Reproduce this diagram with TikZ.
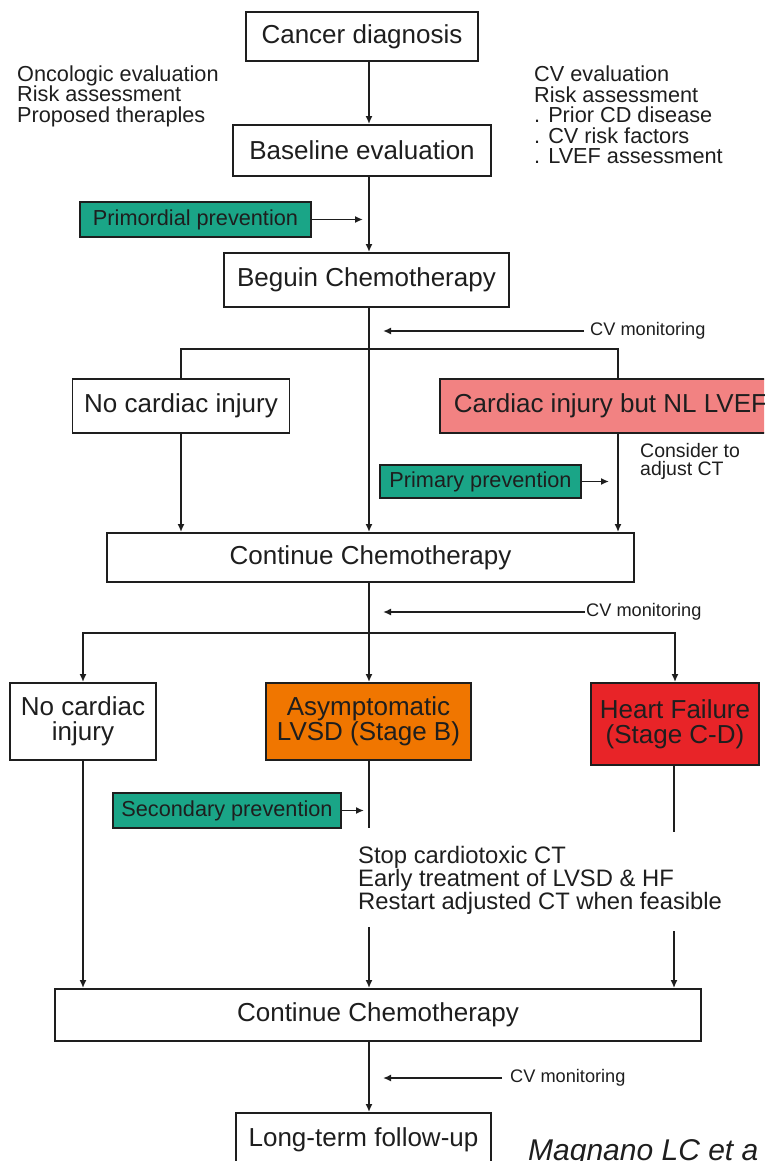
\documentclass[tikz,border=0pt]{standalone}
\usepackage{fontspec}
\setmainfont{Liberation Sans}
\usetikzlibrary{arrows.meta}
\definecolor{tealc}{RGB}{26,165,135}
\definecolor{pinkc}{RGB}{242,130,130}
\definecolor{orangec}{RGB}{240,118,0}
\definecolor{redc}{RGB}{232,36,40}
\definecolor{txt}{RGB}{30,30,30}
\begin{document}
\begin{tikzpicture}[x=1pt,y=-1pt,
  box/.style={draw=txt, line width=1.9pt, fill=white, inner sep=0pt, align=center, text=txt,
    font=\fontsize{26}{25}\selectfont},
  gbox/.style={draw=txt, line width=1.9pt, fill=tealc, inner sep=0pt, text=txt,
    font=\fontsize{21.7}{24}\selectfont},
  side/.style={align=left, inner sep=0pt, text=txt, font=\fontsize{21.7}{20.5}\selectfont},
  cvm/.style={inner sep=0pt, text=txt, font=\fontsize{18.2}{20}\selectfont},
  arr/.style={draw=txt, line width=1.6pt, -{Latex[length=8pt,width=7pt]}},
  ln/.style={draw=txt, line width=1.6pt}]
\useasboundingbox (0,0) rectangle (764,1161);
\clip (0,0) rectangle (764,1161);
\coordinate (vx) at (369,0);
\coordinate (rx) at (618,0);
\coordinate (br1) at (369,349);
\coordinate (br2) at (369,633);
% nodes
\node[box, minimum width=232pt, minimum height=49pt] (cancer) at (362,36.5) {Cancer diagnosis};
\node[side, anchor=west] (onc) at (17,96) {Oncologic evaluation\\Risk assessment\\Proposed theraples};
\node[side, anchor=west] (cve) at (534,115) {CV evaluation\\Risk assessment\\. Prior CD disease\\. CV risk factors\\. LVEF assessment};
\node[box, minimum width=258pt, minimum height=51pt] (base) at (362,150.5) {Baseline evaluation};
\node[gbox, minimum width=231pt, minimum height=35pt] (prim) at (195.5,219.5) {Primordial prevention};
\node[box, minimum width=285pt, minimum height=54pt] (beg) at (366.5,280) {Beguin Chemotherapy};
\node[cvm, anchor=west] (cvm1) at (590,331) {CV monitoring};
\node[box, minimum width=217pt, minimum height=54pt] (nc1) at (181,406) {No cardiac injury};
\node[box, fill=pinkc, anchor=west, minimum height=54pt, inner xsep=14pt] (cinj) at (439,406) {Cardiac injury but NL LVEF};
\node[cvm, anchor=west, align=left, font=\fontsize{19.5}{18}\selectfont] (cons) at (640,461) {Consider to\\adjust CT};
\node[gbox, minimum width=201pt, minimum height=33pt] (primary) at (480.5,481.5) {Primary prevention};
\node[box, minimum width=527pt, minimum height=49pt] (cont1) at (370.5,557.5) {Continue Chemotherapy};
\node[cvm, anchor=west] (cvm2) at (586,612) {CV monitoring};
\node[box, minimum width=146pt, minimum height=77pt] (nc2) at (83,721.5) {No cardiac\\injury};
\node[box, fill=orangec, minimum width=205pt, minimum height=77pt] (asym) at (368.5,721.5) {Asymptomatic\\LVSD (Stage B)};
\node[box, fill=redc, minimum width=168pt, minimum height=82pt] (hf) at (675,724) {Heart Failure\\(Stage C-D)};
\node[gbox, minimum width=228pt, minimum height=35pt] (sec) at (227,810.5) {Secondary prevention};
\node[side, anchor=north west, font=\fontsize{23.8}{22}\selectfont] (treat) at (358,846) {Stop cardiotoxic CT\\Early treatment of LVSD \& HF\\Restart adjusted CT when feasible};
\coordinate (t1) at (369,927);
\coordinate (t2) at (674,931);
\coordinate (a1) at (369,828);
\coordinate (a2) at (674,832);
\node[box, minimum width=646pt, minimum height=52pt] (cont2) at (378,1015) {Continue Chemotherapy};
\node[cvm, anchor=west] (cvm3) at (510,1078) {CV monitoring};
\node[box, minimum width=255pt, minimum height=54pt] (lt) at (363.5,1140) {Long-term follow-up};
\node[inner sep=0pt, anchor=base west, text=txt, font=\fontsize{30}{30}\selectfont\itshape] (mag) at (528,1160) {Magnano LC et a};
% connectors
\draw[arr] (cancer.south -| vx) -- (base.north -| vx);
\draw[arr] (base.south -| vx) -- (beg.north -| vx);
\draw[arr, shorten >=6pt] (prim.east) -- (prim.east -| vx);
\draw[arr] (beg.south -| vx) -- (cont1.north -| vx);
\draw[arr, shorten >=14pt, shorten <=6pt] (cvm1.west) -- (cvm1.west -| vx);
\draw[ln] (nc1.north) -- (nc1.north |- br1) -- (br1 -| rx) -- (cinj.north -| rx);
\draw[arr] (nc1.south) -- (cont1.north -| nc1.south);
\draw[arr] (cinj.south -| rx) -- (cont1.north -| rx);
\draw[arr, shorten >=9pt] (primary.east) -- (primary.east -| rx);
\draw[arr] (cont1.south -| vx) -- (asym.north -| vx);
\draw[arr, shorten >=14pt, shorten <=1pt] (cvm2.west) -- (cvm2.west -| vx);
\draw[arr] (br2) -| (nc2.north);
\draw[arr] (br2) -| (hf.north);
\draw[arr] (nc2.south) -- (cont2.north -| nc2.south);
\draw[ln] (asym.south -| vx) -- (a1);
\draw[ln] (hf.south -| a2) -- (a2);
\draw[arr, shorten >=5pt] (sec.east) -- (sec.east -| vx);
\draw[arr] (t1) -- (cont2.north -| t1);
\draw[arr] (t2) -- (cont2.north -| t2);
\draw[arr] (cont2.south -| vx) -- (lt.north -| vx);
\draw[arr, shorten >=14pt, shorten <=8pt] (cvm3.west) -- (cvm3.west -| vx);
\end{tikzpicture}
\end{document}
